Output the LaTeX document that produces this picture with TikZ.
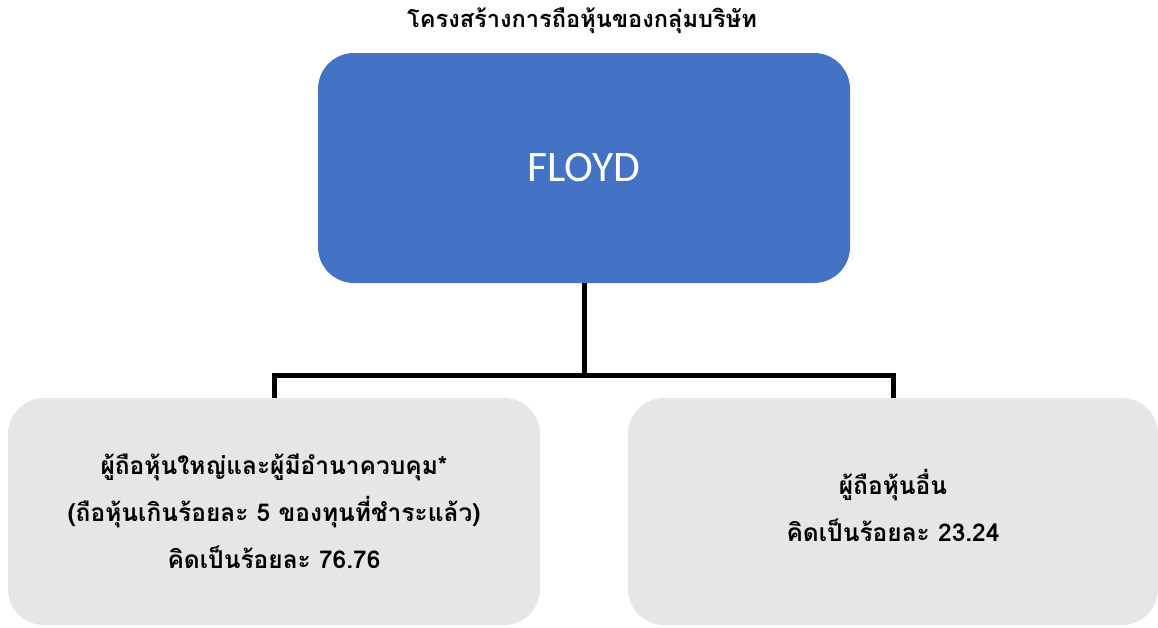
\documentclass[tikz,border=0pt]{standalone}
\usepackage{fontspec}
\newfontfamily\thaifont[Script=Thai]{Loma}
\newfontfamily\floydfont{Carlito}
\definecolor{blueb}{HTML}{4472C4}
\definecolor{grayb}{HTML}{E6E6E6}
\begin{document}
\begin{tikzpicture}[x=1pt,y=-1pt,
  topbox/.style={rectangle, rounded corners=36pt, fill=blueb, draw=none, minimum width=532pt, minimum height=230pt, text=white, font=\floydfont\fontsize{43.5}{50}\selectfont},
  subbox/.style={rectangle, rounded corners=36pt, fill=grayb, draw=none, minimum height=227pt, align=center, font=\thaifont\bfseries\fontsize{24.5}{47}\selectfont},
  boxtext/.style={align=center, font=\thaifont\bfseries\fontsize{24.5}{47}\selectfont},
  conn/.style={line width=5pt, draw=black},
  titletext/.style={font=\thaifont\bfseries\fontsize{23.6}{28}\selectfont}]
\useasboundingbox (0,0) rectangle (1158,627);
\node[titletext] (title) at (582,21) {โครงสร้างการถือหุ้นของกลุ่มบริษัท};
\node[topbox] (floyd) at (584,168) {FLOYD};
\node[subbox, minimum width=532pt] (left) at (274,511.5) {ผู้ถือหุ้นใหญ่และผู้มีอำนาควบคุม*\\(ถือหุ้นเกินร้อยละ 5 ของทุนที่ชำระแล้ว)\\คิดเป็นร้อยละ 76.76};
\node[subbox, minimum width=530pt] (right) at (893,511.5) {};
\node[boxtext] (righttext) at ([yshift=6pt]right.center) {ผู้ถือหุ้นอื่น\\คิดเป็นร้อยละ 23.24};
\coordinate (bus) at (584,375);
\draw[conn] (floyd.south) -- (bus);
\draw[conn] (left.north) -- (left.north |- bus) -- (right.north |- bus) -- (right.north);
\end{tikzpicture}
\end{document}
